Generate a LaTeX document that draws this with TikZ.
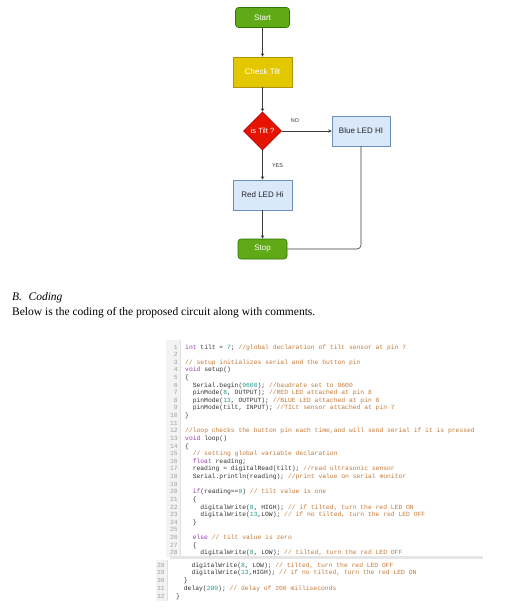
\documentclass[tikz,border=0pt]{standalone}
\usepackage{fontspec}
\setmainfont{Liberation Serif}
\newfontfamily\flowfont{Liberation Sans}
\newfontfamily\codefont{Liberation Mono}
\usetikzlibrary{shapes.geometric,arrows.meta}
\definecolor{gfill}{HTML}{60A917}\definecolor{gdraw}{HTML}{2D7600}
\definecolor{yfill}{HTML}{E3C800}\definecolor{ydraw}{HTML}{B09500}
\definecolor{rfill}{HTML}{E51400}\definecolor{rdraw}{HTML}{B20000}
\definecolor{bfill}{HTML}{DAE8FC}\definecolor{bdraw}{HTML}{6C8EBF}
\definecolor{edgecol}{HTML}{3A3A3A}
\definecolor{kwcol}{HTML}{9A3FB0}
\definecolor{cmtcol}{HTML}{C47A36}
\definecolor{numcol}{HTML}{1E9A90}
\definecolor{codetext}{HTML}{333333}
\definecolor{lncol}{HTML}{A0A0A0}
\definecolor{gutter}{HTML}{F3F3F3}
\newcommand\kw[1]{\textcolor{kwcol}{#1}}
\newcommand\cmt[1]{\textcolor{cmtcol}{#1}}
\newcommand\numc[1]{\textcolor{numcol}{#1}}
\tikzset{
  box/.style={draw, line width=0.6pt, minimum width=#1, inner sep=0pt, font=\flowfont\fontsize{8}{9}\selectfont},
  term/.style={box=#1, rounded corners=3pt, fill=gfill, draw=gdraw, text=white, minimum height=20pt},
  proc/.style={box=#1, fill=bfill, draw=bdraw, text=black!85, minimum height=30pt},
  chk/.style={box=#1, fill=yfill, draw=ydraw, text=white, minimum height=30pt},
  dec/.style={diamond, draw=rdraw, fill=rfill, text=white, line width=0.6pt, inner sep=0pt,
     minimum width=38pt, minimum height=38pt, font=\flowfont\fontsize{7.5}{9}\selectfont},
  edge/.style={draw=edgecol, line width=0.6pt},
  arr/.style={edge, -{Stealth[length=3.5pt,width=3.5pt]}},
  lbl/.style={font=\flowfont\fontsize{5.5}{6}\selectfont, text=black!80, inner sep=0pt},
  code/.style={anchor=base west, inner sep=0pt, text=codetext, font=\codefont\fontsize{6.35}{7}\selectfont},
  lnum/.style={anchor=base east, inner sep=0pt, text=lncol, font=\codefont\fontsize{6.35}{7}\selectfont},
  para/.style={anchor=base west, inner sep=0pt, font=\fontsize{11.5}{13}\selectfont}
}
\newcommand\LY[1]{349+(#1-1)*7.62}
\newcommand\LZ[1]{567+(#1-28)*7.85}
\begin{document}
\begin{tikzpicture}[x=1pt,y=-1pt]
\fill[white] (0,0) rectangle (516,615);
\useasboundingbox (0,0) rectangle (516,615);
% flowchart
\node[term=54pt] (start) at (262.5,17.5) {Start};
\node[chk=59pt] (check) at (262.5,72) {Check Tilt};
\node[dec] (tilt) at (262.5,131) {is Tilt ?};
\node[proc=58pt] (blue) at (361,131) {Blue LED HI};
\node[proc=59pt] (red) at (262.5,195) {Red LED Hi};
\node[term=49pt] (stop) at (262.5,249) {Stop};
\draw[arr] (start) -- (check);
\draw[arr] (check) -- (tilt);
\draw[arr] (tilt) -- (blue);
\draw[arr] (tilt) -- (red);
\draw[arr] (red) -- (stop);
\draw[edge, rounded corners=4pt] (blue.south) |- (stop.east);
\node[lbl] (no) at (295,121) {NO};
\node[lbl] (yes) at (277.5,166) {YES};
% text
\node[para] (head) at (12,300.5) {\itshape B.\hspace{6.5pt}Coding};
\node[para] (body) at (12,315.5) {Below is the coding of the proposed circuit along with comments.};
% code block 1
\fill[gutter] (166,340) rectangle (180,557);
\draw[black!12, line width=0.4pt] (180,340) -- (180,557);
\foreach \n in {1,...,28} { \node[lnum] (n\n) at (178,{\LY{\n}}) {\n}; }
\node[code] (c1) at (185,{\LY{1}}) {\kw{int} tilt = \numc{7}; \cmt{//global declaration of tilt sensor at pin 7}};
\node[code] (c3) at (185,{\LY{3}}) {\cmt{// setup initializes serial and the button pin}};
\node[code] (c4) at (185,{\LY{4}}) {\kw{void} setup()};
\node[code] (c5) at (185,{\LY{5}}) {\{};
\node[code] (c6) at (192.6,{\LY{6}}) {Serial.begin(\numc{9600}); \cmt{//baudrate set to 9600}};
\node[code] (c7) at (192.6,{\LY{7}}) {pinMode(\numc{8}, OUTPUT); \cmt{//RED LED attached at pin 8}};
\node[code] (c8) at (192.6,{\LY{8}}) {pinMode(\numc{13}, OUTPUT); \cmt{//BLUE LED attached at pin 8}};
\node[code] (c9) at (192.6,{\LY{9}}) {pinMode(tilt, INPUT); \cmt{//TILt sensor attached at pin 7}};
\node[code] (c10) at (185,{\LY{10}}) {\}};
\node[code] (c12) at (185,{\LY{12}}) {\cmt{//loop checks the button pin each time,and will send serial if it is pressed}};
\node[code] (c13) at (185,{\LY{13}}) {\kw{void} loop()};
\node[code] (c14) at (185,{\LY{14}}) {\{};
\node[code] (c15) at (192.6,{\LY{15}}) {\cmt{// setting global variable declaration}};
\node[code] (c16) at (192.6,{\LY{16}}) {\kw{float} reading;};
\node[code] (c17) at (192.6,{\LY{17}}) {reading = digitalRead(tilt); \cmt{//read ultrasonic sensor}};
\node[code] (c18) at (192.6,{\LY{18}}) {Serial.println(reading); \cmt{//print value on serial monitor}};
\node[code] (c20) at (192.6,{\LY{20}}) {\kw{if}(reading==\numc{0}) \cmt{// tilt value is one}};
\node[code] (c21) at (192.6,{\LY{21}}) {\{};
\node[code] (c22) at (200.2,{\LY{22}}) {digitalWrite(\numc{8}, HIGH); \cmt{// if tilted, turn the red LED ON}};
\node[code] (c23) at (200.2,{\LY{23}}) {digitalWrite(\numc{13},LOW); \cmt{// if no tilted, turn the red LED OFF}};
\node[code] (c24) at (192.6,{\LY{24}}) {\}};
\node[code] (c26) at (192.6,{\LY{26}}) {\kw{else} \cmt{// tilt value is zero}};
\node[code] (c27) at (192.6,{\LY{27}}) {\{};
\node[code] (c28) at (200.2,{\LY{28}}) {digitalWrite(\numc{8}, LOW); \cmt{// tilted, turn the red LED OFF}};
\fill[black!10] (170,556.3) rectangle (483,558.5);
% code block 2
\fill[gutter] (156,560) rectangle (167,601);
\draw[black!12, line width=0.4pt] (167,560) -- (167,601);
\foreach \n in {28,...,32} { \node[lnum] (m\n) at (165,{\LZ{\n}}) {\n}; }
\node[code] (d28) at (191.4,{\LZ{28}}) {digitalWrite(\numc{8}, LOW); \cmt{// tilted, turn the red LED OFF}};
\node[code] (d29) at (191.4,{\LZ{29}}) {digitalWrite(\numc{13},HIGH); \cmt{// if no tilted, turn the red LED ON}};
\node[code] (d30) at (183.7,{\LZ{30}}) {\}};
\node[code] (d31) at (183.7,{\LZ{31}}) {delay(\numc{200}); \cmt{// delay of 200 milliseconds}};
\node[code] (d32) at (176,{\LZ{32}}) {\}};
\end{tikzpicture}
\end{document}
